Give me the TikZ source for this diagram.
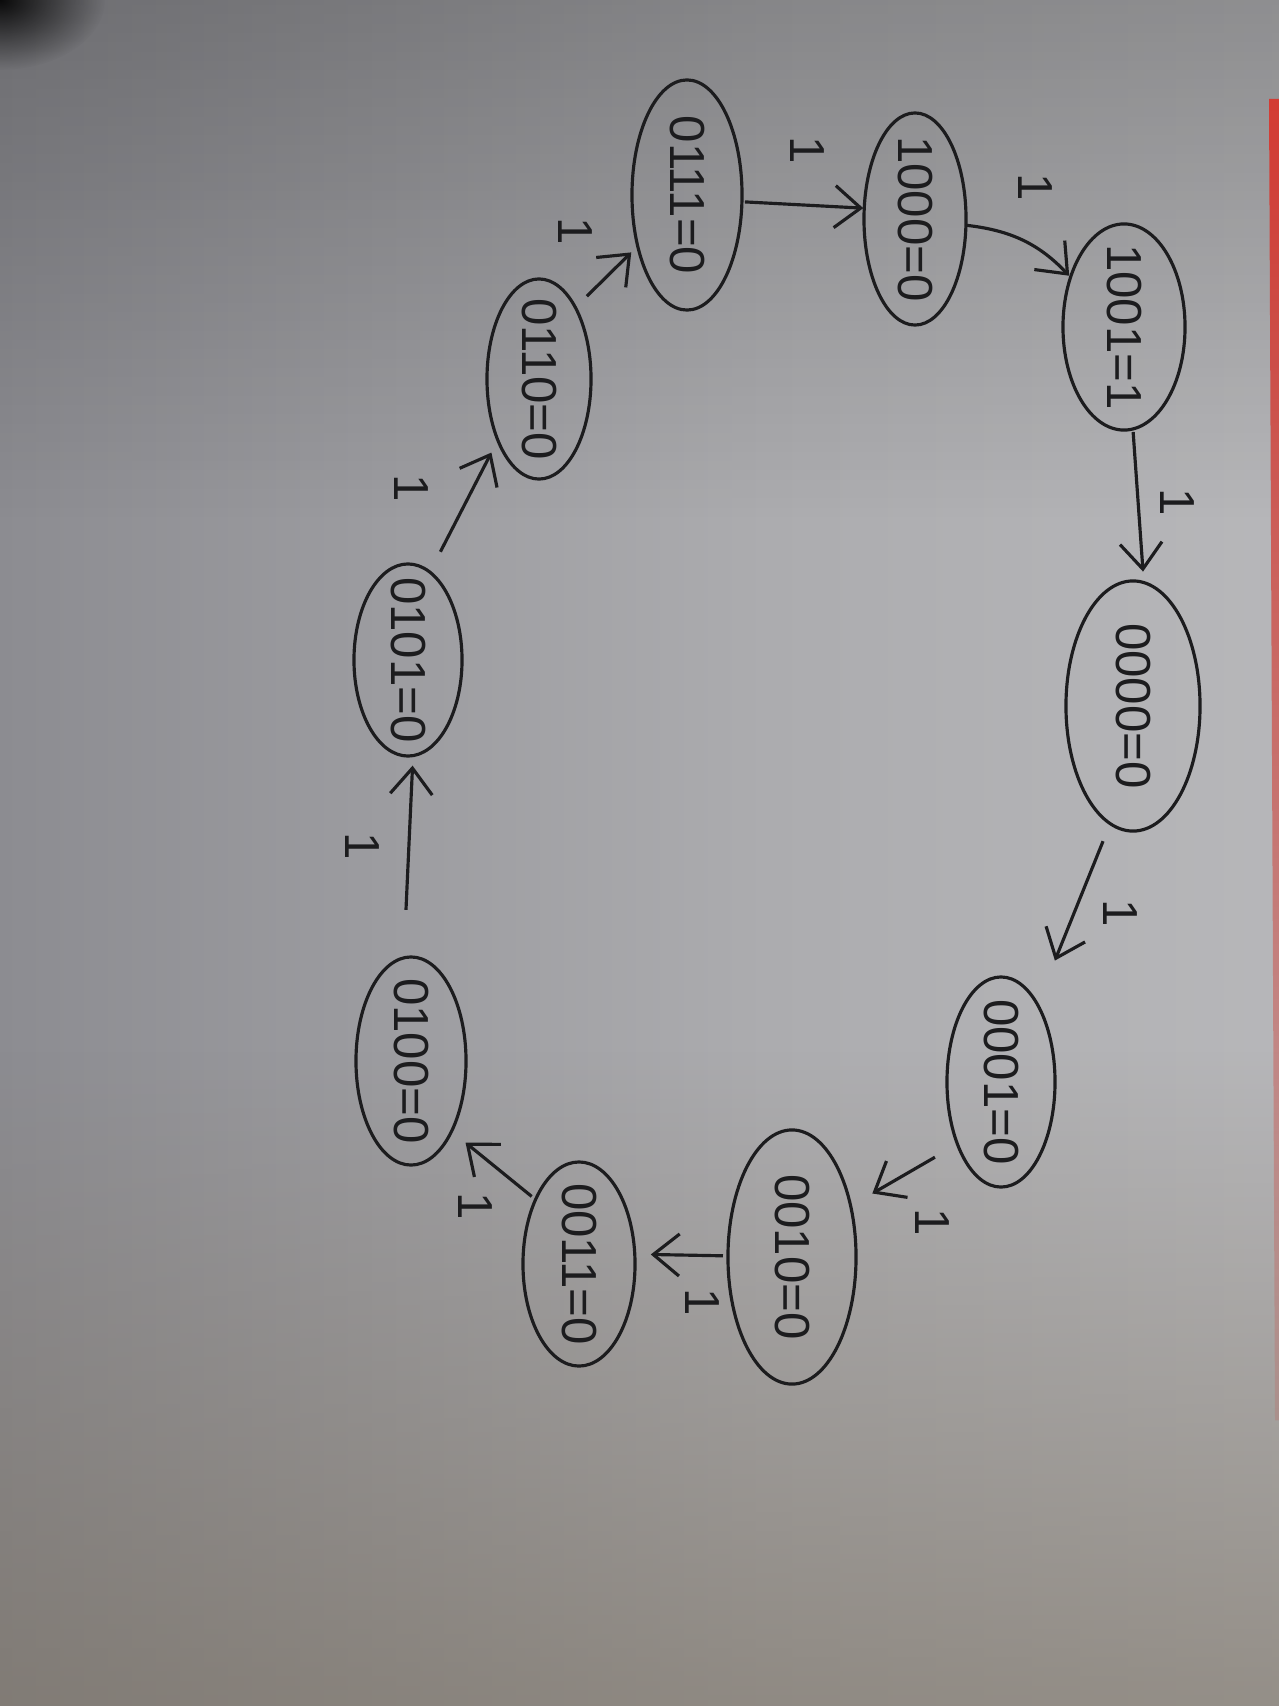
\documentclass[tikz,border=0pt]{standalone}
\usepackage{fontspec}
\usetikzlibrary{shapes.geometric,arrows.meta,fadings}

\newfontfamily\handfont{Liberation Sans}

\definecolor{ink}{RGB}{28,28,30}
\definecolor{paperA}{RGB}{106,106,111}
\definecolor{paperB}{RGB}{140,140,145}
\definecolor{paperC}{RGB}{172,172,175}
\definecolor{paperD}{RGB}{196,196,198}
\definecolor{beige}{RGB}{120,110,95}
\definecolor{redstrip}{RGB}{212,60,52}

\pgfdeclarehorizontalshading{paper}{100bp}{color(0bp)=(paperA); color(25bp)=(paperB); color(55bp)=(paperC); color(100bp)=(paperD)}
\tikzfading[name=topshade, top color=transparent!78, bottom color=transparent!100]
\tikzfading[name=botshade, top color=transparent!100, bottom color=transparent!45]
\tikzfading[name=stripfade, top color=transparent!0, bottom color=transparent!85]
\tikzfading[name=cornerfade, inner color=transparent!0, outer color=transparent!100]

\newcommand{\vtxt}[1]{\rotatebox{-90}{\makebox[0pt]{#1}}}

\begin{document}
\begin{tikzpicture}
		[x=0.01cm, y=-0.01cm,
		>={Straight Barb[length=2.6mm,width=4.2mm]},
		state/.style={ellipse, draw=ink, line width=0.9pt,
			inner sep=0pt, outer sep=0pt, text=ink,
			font=\handfont\fontsize{14}{16}\selectfont},
		lbl/.style={rotate=-90, inner sep=0pt, text=ink,
			font=\handfont\fontsize{14}{16}\selectfont}]
	\useasboundingbox (0,0) rectangle (1279,1706);

	% paper
	\shade[shading=paper] (0,0) rectangle (1279,1706);
	\fill[black, path fading=topshade] (0,0) rectangle (1279,520);
	\fill[beige, path fading=botshade] (0,1050) rectangle (1279,1706);
	\fill[black, path fading=cornerfade, opacity=0.9] (0,0) ellipse (105 and 70);
	\fill[redstrip, path fading=stripfade] (1269,98) -- (1279,98) -- (1279,1420) -- (1275,1420) -- cycle;

	% states
	\node[state, minimum width=1.34cm, minimum height=2.50cm] (s0) at (1133,706)  {\vtxt{0000=0}};
	\node[state, minimum width=1.08cm, minimum height=2.10cm] (s1) at (1001,1082) {\vtxt{0001=0}};
	\node[state, minimum width=1.28cm, minimum height=2.54cm] (s2) at (792,1257)  {\vtxt{0010=0}};
	\node[state, minimum width=1.12cm, minimum height=2.04cm] (s3) at (579,1264)  {\vtxt{0011=0}};
	\node[state, minimum width=1.10cm, minimum height=2.08cm] (s4) at (411,1061)  {\vtxt{0100=0}};
	\node[state, minimum width=1.08cm, minimum height=1.92cm] (s5) at (408,660)   {\vtxt{0101=0}};
	\node[state, minimum width=1.04cm, minimum height=2.00cm] (s6) at (539,379)   {\vtxt{0110=0}};
	\node[state, minimum width=1.10cm, minimum height=2.30cm] (s7) at (687,195)   {\vtxt{0111=0}};
	\node[state, minimum width=1.02cm, minimum height=2.12cm] (s8) at (915,219)   {\vtxt{1000=0}};
	\node[state, minimum width=1.22cm, minimum height=2.06cm] (s9) at (1124,327)  {\vtxt{1001=1}};

	% transition labels
	\node[lbl] (l0) at (1120,913)  {1};
	\node[lbl] (l1) at (932,1222)  {1};
	\node[lbl] (l2) at (702,1302)  {1};
	\node[lbl] (l3) at (475,1206)  {1};
	\node[lbl] (l4) at (362,846)   {1};
	\node[lbl] (l5) at (411,488)   {1};
	\node[lbl] (l6) at (575,231)   {1};
	\node[lbl] (l7) at (807,150)   {1};
	\node[lbl] (l8) at (1035,187)  {1};
	\node[lbl] (l9) at (1177,502)  {1};

	% transitions
	\foreach \from/\to/\a/\b/\s/\e/\bend in {s0/s1/259/65/0.19/0.47/0,
		s1/s2/235/41/0.26/0.25/0,
		s2/s3/179/10/0.05/0.16/0,
		s3/s4/124/300/0.05/0.18/0,
		s4/s5/94/273/0.48/0.10/0,
		s5/s6/76/236/0.23/0.14/0,
		s6/s7/63/226/0.16/0.09/0,
		s7/s8/353/168/0.03/0.01/0,
		s8/s9/353/137/0.00/0.02/20,
		s9/s0/275/85/0.03/0.11/0}
	\draw[->, draw=ink, line width=0.9pt, shorten <=\s cm, shorten >=\e cm]
		(\from.\a) to[bend left=\bend] (\to.\b);
\end{tikzpicture}
\end{document}
